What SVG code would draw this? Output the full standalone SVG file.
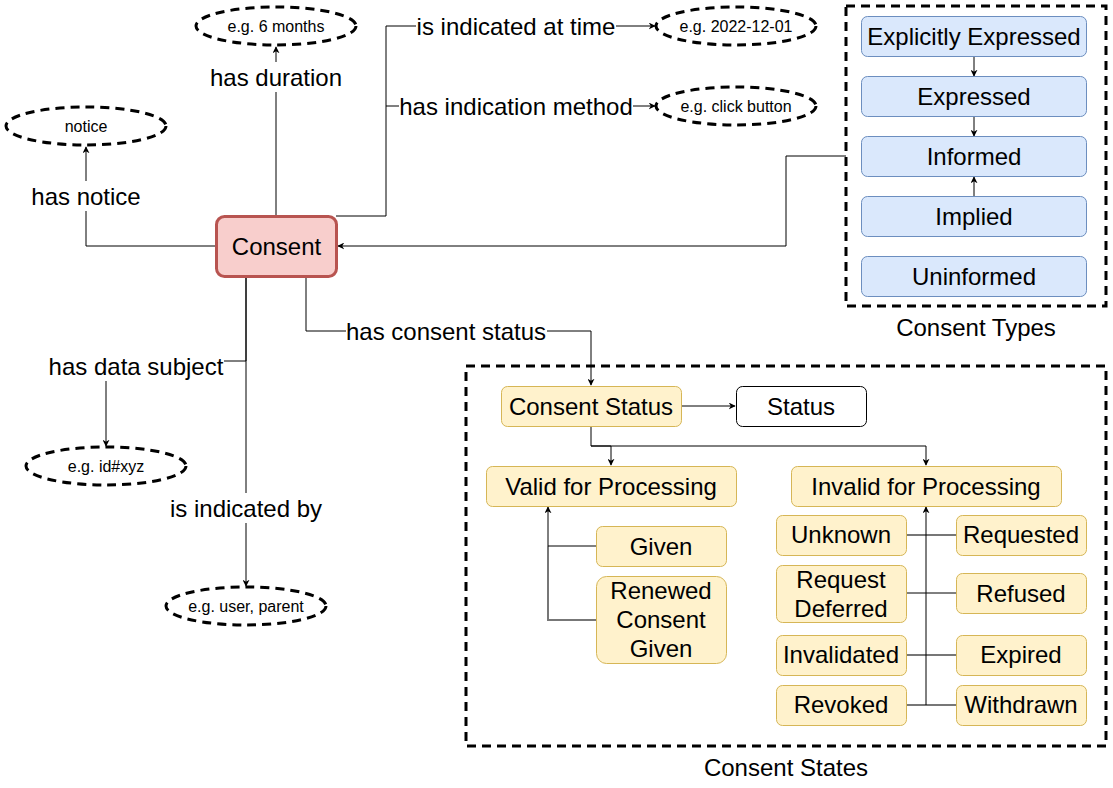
<svg xmlns="http://www.w3.org/2000/svg" width="1113" height="788" viewBox="0 0 1113 788">
<defs>
<marker id="arr" viewBox="0 0 10 10" refX="9" refY="5" markerWidth="7" markerHeight="7" orient="auto-start-reverse" markerUnits="userSpaceOnUse">
<path d="M0,0 L10,5 L0,10 L3,5 z" fill="#000"/>
</marker>
<style>
text{font-family:"Liberation Sans",Arial,sans-serif;fill:#000;text-anchor:middle;dominant-baseline:central}
.big{font-size:24px}
.sm{font-size:16px}
.ell{fill:#fff;stroke:#000;stroke-width:3;stroke-dasharray:9 6}
.cont{fill:none;stroke:#000;stroke-width:3;stroke-dasharray:9 6}
.blue{fill:#dae8fc;stroke:#6c8ebf;stroke-width:1}
.yel{fill:#fff2cc;stroke:#d6b656;stroke-width:1}
.e{fill:none;stroke:#000;stroke-width:1}
.g{fill:none;stroke:#777;stroke-width:2}
.lbl{fill:#fff}
</style>
</defs>

<g id="containers">
<rect class="cont" x="846" y="6" width="260" height="300"/>
<text class="big" x="976" y="327">Consent Types</text>
<rect class="cont" x="466" y="366" width="640" height="380"/>
<text class="big" x="786" y="767">Consent States</text>
</g>

<g id="connectors">
<path class="e" d="M276,216 V47" marker-end="url(#arr)"/>
<path class="e" d="M216,246 H86 V147" marker-end="url(#arr)"/>
<path class="e" d="M336,216 H386 V26 H655" marker-end="url(#arr)"/>
<path class="e" d="M386,106 H655" marker-end="url(#arr)"/>
<path class="e" d="M846,156 H786 V246 H338" marker-end="url(#arr)"/>
<path class="e" d="M306,276 V331 H591 V385" marker-end="url(#arr)"/>
<path class="e" d="M246,276 V361 H106 V446" marker-end="url(#arr)"/>
<path class="e" d="M246,276 V586" marker-end="url(#arr)"/>
<path class="e" d="M974,56 V76" marker-end="url(#arr)"/>
<path class="e" d="M974,116 V136" marker-end="url(#arr)"/>
<path class="e" d="M974,196 V177" marker-end="url(#arr)"/>
<path class="e" d="M681,406 H735" marker-end="url(#arr)"/>
<path class="e" d="M591,426 V446 H611 V465" marker-end="url(#arr)"/>
<path class="e" d="M591,446 H926 V465" marker-end="url(#arr)"/>
<path class="g" d="M596,620 H548 V546"/>
<path class="e" d="M596,546 H548 V507" marker-end="url(#arr)"/>
<path class="g" d="M906,535 H956 M906,655 H956 M906,705 H956"/>
<path class="e" d="M906,593 H956"/>
<path class="e" d="M926,705 V507" marker-end="url(#arr)"/>
<g id="edge-labels">
<rect class="lbl" x="206" y="62" width="140" height="30"/>
<text class="big" x="276" y="77">has duration</text>
<rect class="lbl" x="28" y="181" width="116" height="30"/>
<text class="big" x="86" y="196">has notice</text>
<rect class="lbl" x="416" y="11" width="200" height="30"/>
<text class="big" x="516" y="26">is indicated at time</text>
<rect class="lbl" x="399" y="91" width="234" height="30"/>
<text class="big" x="516" y="106">has indication method</text>
<rect class="lbl" x="346" y="316" width="201" height="30"/>
<text class="big" x="446" y="331">has consent status</text>
<rect class="lbl" x="47" y="351" width="177" height="30"/>
<text class="big" x="136" y="366">has data subject</text>
<rect class="lbl" x="168" y="493" width="156" height="30"/>
<text class="big" x="246" y="508">is indicated by</text>
</g>
</g>

<g id="consent">
<rect x="216.5" y="216.5" width="120" height="60" rx="8" fill="#f8cecc" stroke="#b85450" stroke-width="3"/>
<text class="big" x="276.5" y="246.5">Consent</text>
</g>

<g id="duration"><ellipse class="ell" cx="276" cy="26" rx="80" ry="19"/><text class="sm" x="276" y="26">e.g. 6 months</text></g>
<g id="notice"><ellipse class="ell" cx="86" cy="126" rx="80" ry="19"/><text class="sm" x="86" y="126">notice</text></g>
<g id="time"><ellipse class="ell" cx="736" cy="26" rx="80" ry="19"/><text class="sm" x="736" y="26">e.g. 2022-12-01</text></g>
<g id="method"><ellipse class="ell" cx="736" cy="106" rx="80" ry="19"/><text class="sm" x="736" y="106">e.g. click button</text></g>
<g id="subject"><ellipse class="ell" cx="106" cy="466" rx="80" ry="19"/><text class="sm" x="106" y="466">e.g. id#xyz</text></g>
<g id="indicatedby"><ellipse class="ell" cx="246" cy="606" rx="80" ry="19"/><text class="sm" x="246" y="606">e.g. user, parent</text></g>

<g id="explicitly-expressed"><rect class="blue" x="861.5" y="16.5" width="225" height="40" rx="6"/><text class="big" x="974" y="36.5">Explicitly Expressed</text></g>
<g id="expressed"><rect class="blue" x="861.5" y="76.5" width="225" height="40" rx="6"/><text class="big" x="974" y="96.5">Expressed</text></g>
<g id="informed"><rect class="blue" x="861.5" y="136.5" width="225" height="40" rx="6"/><text class="big" x="974" y="156.5">Informed</text></g>
<g id="implied"><rect class="blue" x="861.5" y="196.5" width="225" height="40" rx="6"/><text class="big" x="974" y="216.5">Implied</text></g>
<g id="uninformed"><rect class="blue" x="861.5" y="256.5" width="225" height="40" rx="6"/><text class="big" x="974" y="276.5">Uninformed</text></g>

<g id="consent-status"><rect class="yel" x="501.5" y="386.5" width="180" height="40" rx="6"/><text class="big" x="591" y="406.5">Consent Status</text></g>
<g id="status"><rect x="736.5" y="386.5" width="130" height="40" rx="6" fill="#fff" stroke="#000"/><text class="big" x="801" y="406.5">Status</text></g>
<g id="valid"><rect class="yel" x="486.5" y="466.5" width="250" height="40" rx="6"/><text class="big" x="611" y="486.5">Valid for Processing</text></g>
<g id="invalid"><rect class="yel" x="791.5" y="466.5" width="270" height="40" rx="6"/><text class="big" x="926" y="486.5">Invalid for Processing</text></g>
<g id="given"><rect class="yel" x="596.5" y="526.5" width="130" height="40" rx="6"/><text class="big" x="661" y="546.5">Given</text></g>
<g id="renewed"><rect class="yel" x="596.5" y="576.5" width="130" height="87" rx="10"/><text class="big" x="661" y="590">Renewed</text><text class="big" x="661" y="619">Consent</text><text class="big" x="661" y="648">Given</text></g>
<g id="unknown"><rect class="yel" x="776.5" y="515.5" width="130" height="40" rx="6"/><text class="big" x="841" y="534">Unknown</text></g>
<g id="request-deferred"><rect class="yel" x="776.5" y="565.5" width="130" height="57" rx="6"/><text class="big" x="841" y="579">Request</text><text class="big" x="841" y="608">Deferred</text></g>
<g id="invalidated"><rect class="yel" x="776.5" y="635.5" width="130" height="40" rx="6"/><text class="big" x="841" y="654">Invalidated</text></g>
<g id="revoked"><rect class="yel" x="776.5" y="685.5" width="130" height="40" rx="6"/><text class="big" x="841" y="704">Revoked</text></g>
<g id="requested"><rect class="yel" x="956.5" y="515.5" width="130" height="40" rx="6"/><text class="big" x="1021" y="534">Requested</text></g>
<g id="refused"><rect class="yel" x="956.5" y="573.5" width="130" height="40" rx="6"/><text class="big" x="1021" y="593">Refused</text></g>
<g id="expired"><rect class="yel" x="956.5" y="635.5" width="130" height="40" rx="6"/><text class="big" x="1021" y="654">Expired</text></g>
<g id="withdrawn"><rect class="yel" x="956.5" y="685.5" width="130" height="40" rx="6"/><text class="big" x="1021" y="704">Withdrawn</text></g>
</svg>
